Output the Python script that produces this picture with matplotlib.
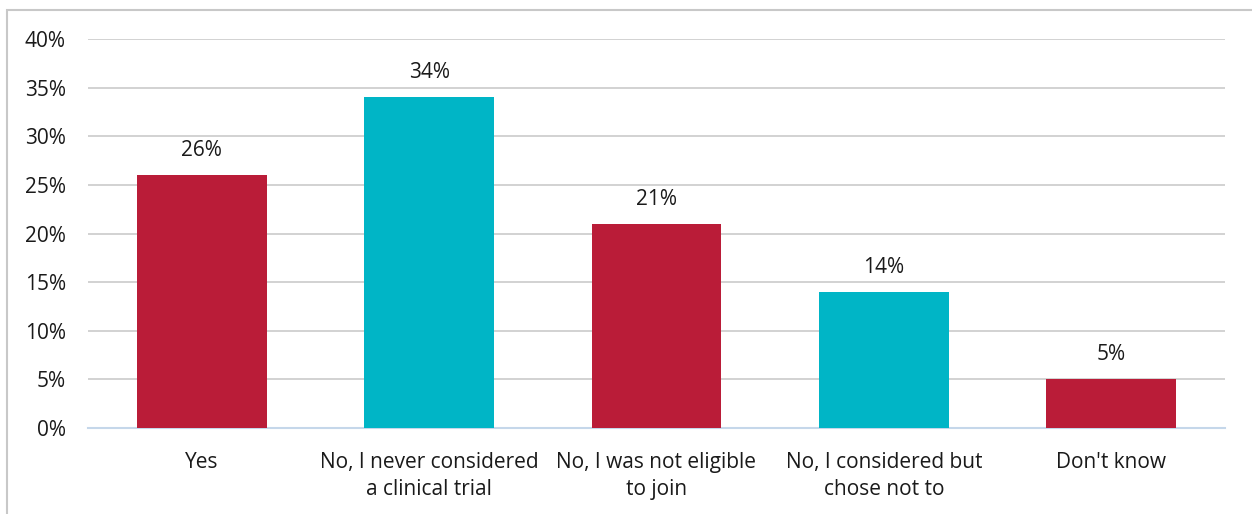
import matplotlib.pyplot as plt
from matplotlib.patches import Rectangle

categories = ['Yes', 'No, I never considered\na clinical trial', 'No, I was not eligible\nto join',
              'No, I considered but\nchose not to', "Don't know"]
values = [26, 34, 21, 14, 5]
colors = ['#BA1C38', '#00B5C6', '#BA1C38', '#00B5C6', '#BA1C38']
yticks = [0, 5, 10, 15, 20, 25, 30, 35, 40]

plt.rcParams['font.family'] = ['Open Sans', 'DejaVu Sans']

W, H = 1252, 514
fig = plt.figure(figsize=(W / 100, H / 100), dpi=100)
ax = fig.add_axes([88 / W, 1 - 428 / H, (1225 - 88) / W, (428 - 39) / H])

fs = 15
x = range(len(categories))
bars = ax.bar(x, values, width=0.57, color=colors, zorder=3)
for b, v in zip(bars, values):
    ax.text(b.get_x() + b.get_width() / 2, v + 1.95, f'{v}%', ha='center', va='baseline',
            fontsize=fs, color='#1a1a1a')

ax.set_xlim(-0.5, len(categories) - 0.5)
ax.set_ylim(0, 40)
ax.set_yticks(yticks)
ax.set_yticklabels([f'{t}%' for t in yticks], fontsize=fs, color='#1a1a1a')
ax.set_xticks(list(x))
ax.set_xticklabels(categories, fontsize=fs, color='#1a1a1a', linespacing=1.35)
ax.tick_params(axis='both', length=0)
ax.tick_params(axis='y', pad=16)
ax.tick_params(axis='x', pad=17.5)
ax.yaxis.grid(True, color='#CFCFCF', linewidth=1.3, zorder=0)
for s in ['top', 'right', 'left']:
    ax.spines[s].set_visible(False)
ax.spines['bottom'].set_color('#C5D7EA')
ax.spines['bottom'].set_linewidth(1.5)

# light frame around the chart area
fig.patches.append(Rectangle((6.5 / W, -0.1), 1.2, 1 - 9.5 / H + 0.1, transform=fig.transFigure,
                             fill=False, edgecolor='#C8C8C8', linewidth=1.5))

fig.savefig('out.png', dpi=100)
